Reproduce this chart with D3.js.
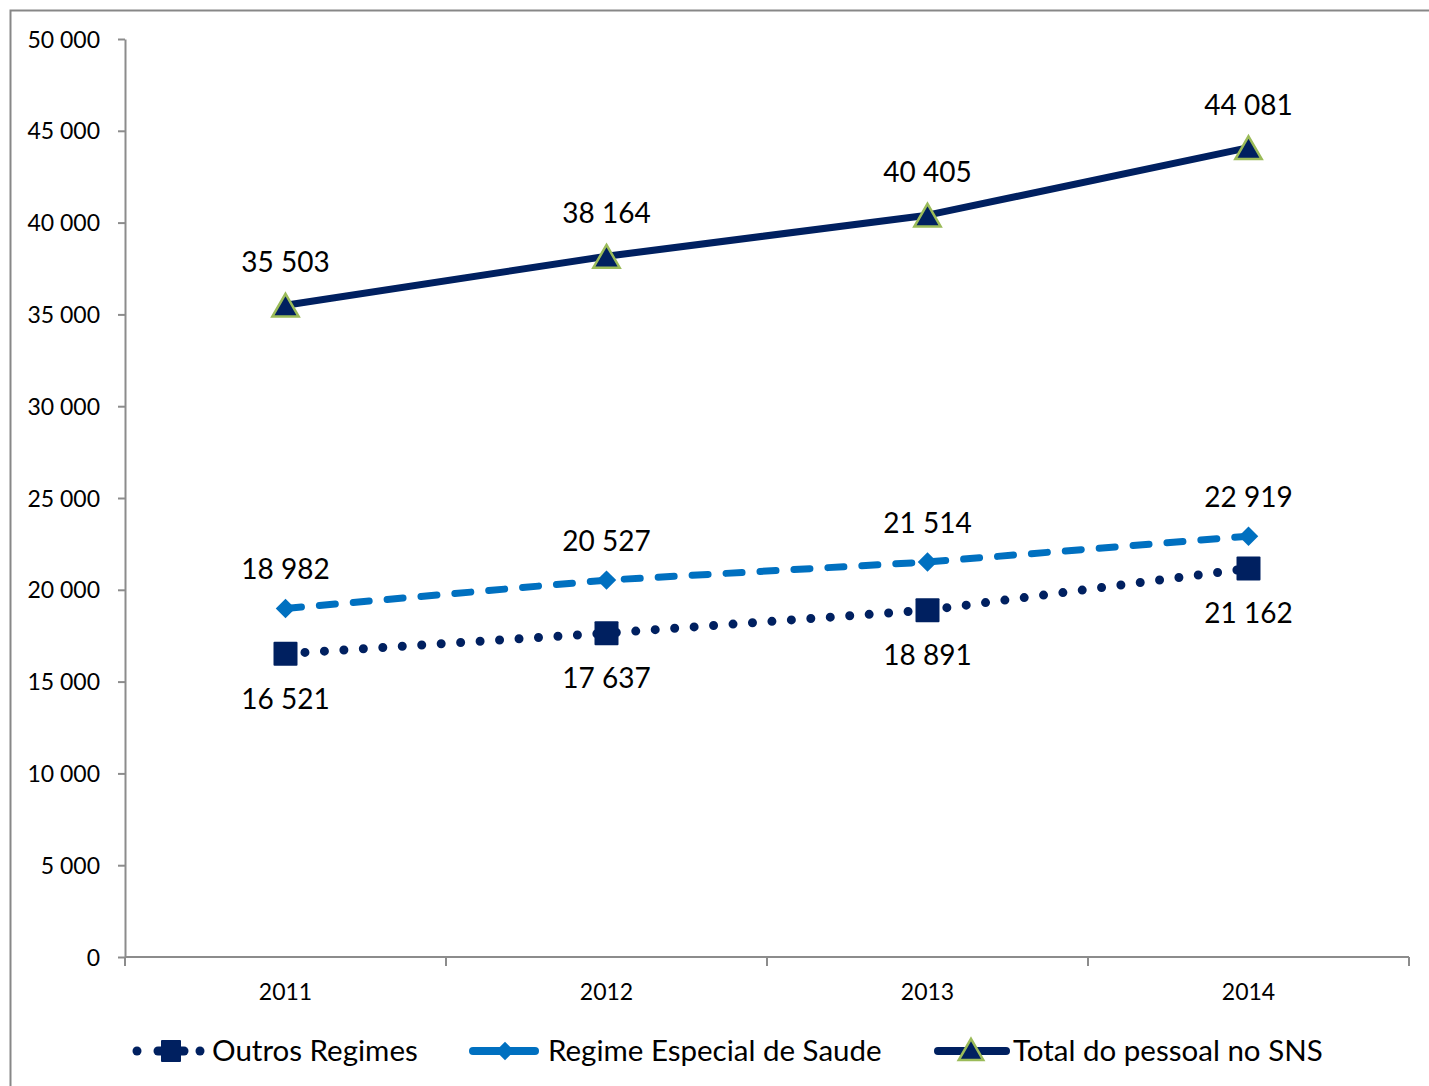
<!DOCTYPE html>
<html>
<head>
<meta charset="utf-8">
<script src="https://cdn.jsdelivr.net/npm/d3@7"></script>
<style>
  html, body { margin: 0; padding: 0; background: #fff; }
  svg { display: block; font-family: Lato, "Open Sans", sans-serif; }
</style>
</head>
<body>
<svg id="chart" width="1429" height="1086"></svg>
<script>
// Staff counts in the SNS by regime, 2011–2014
const years = ["2011", "2012", "2013", "2014"];
const outrosRegimes = [16521, 17637, 18891, 21162];
const regimeEspecial = [18982, 20527, 21514, 22919];
const totalSNS = [35503, 38164, 40405, 44081];
const yTicks = [0, 5000, 10000, 15000, 20000, 25000, 30000, 35000, 40000, 45000, 50000];
const seriesNames = ["Outros Regimes", "Regime Especial de Saude", "Total do pessoal no SNS"];

const navy = "#002060";
const blue = "#0070C0";
const green = "#9BBB59";
const axisGrey = "#8c8c8c";

const svg = d3.select("#chart");
const fmt = v => d3.format(",")(v).replace(/,/g, " ");

// outer frame
svg.append("rect")
  .attr("x", 10.5).attr("y", 10.5)
  .attr("width", 1440).attr("height", 1100)
  .attr("fill", "none").attr("stroke", "#878787").attr("stroke-width", 2);

const plot = { left: 125, right: 1409, top: 39, bottom: 957 };

const x = d3.scaleBand().domain(years).range([plot.left, plot.right]).padding(0);
const y = d3.scaleLinear().domain([0, 50000]).range([plot.bottom, plot.top]);
const cx = d => x(d) + x.bandwidth() / 2;

const tickSize = 23;
const valueSize = 28;
const legendSize = 29.5;

// y axis
const yAxis = svg.append("g")
  .attr("transform", `translate(${plot.left},0)`)
  .call(d3.axisLeft(y).tickValues(yTicks).tickFormat(fmt).tickSize(7).tickSizeOuter(0));
yAxis.select(".domain").attr("stroke", axisGrey).attr("stroke-width", 2);
yAxis.selectAll(".tick line").attr("stroke", axisGrey).attr("stroke-width", 2);
yAxis.selectAll(".tick text")
  .attr("x", -25).attr("dy", "0.35em")
  .attr("font-size", tickSize).attr("fill", "#000")
  .style("font-family", "Lato, 'Open Sans', sans-serif");

// x axis: ticks at category boundaries
const xAxisG = svg.append("g").attr("transform", `translate(0,${plot.bottom})`);
xAxisG.append("line")
  .attr("x1", plot.left).attr("x2", plot.right)
  .attr("stroke", axisGrey).attr("stroke-width", 2);
const boundaries = years.map(d => x(d)).concat([plot.right]);
xAxisG.selectAll("line.tick").data(boundaries).enter().append("line")
  .attr("class", "tick")
  .attr("x1", d => d).attr("x2", d => d)
  .attr("y1", 0).attr("y2", 9)
  .attr("stroke", axisGrey).attr("stroke-width", 2);
xAxisG.selectAll("text").data(years).enter().append("text")
  .attr("x", d => cx(d)).attr("y", 43)
  .attr("text-anchor", "middle")
  .attr("font-size", tickSize).attr("fill", "#000")
  .text(d => d);

const line = d3.line().x((d, i) => cx(years[i])).y(d => y(d));

// Total do pessoal no SNS
svg.append("path").datum(totalSNS)
  .attr("d", line).attr("fill", "none")
  .attr("stroke", navy).attr("stroke-width", 7).attr("stroke-linejoin", "round");

// Regime Especial de Saude (dashed)
svg.append("path").datum(regimeEspecial)
  .attr("d", line).attr("fill", "none")
  .attr("stroke", blue).attr("stroke-width", 7)
  .attr("stroke-linecap", "round")
  .attr("stroke-dasharray", "16 18");

// Outros Regimes (round dotted)
svg.append("path").datum(outrosRegimes)
  .attr("d", line).attr("fill", "none")
  .attr("stroke", navy).attr("stroke-width", 9)
  .attr("stroke-linecap", "round")
  .attr("stroke-dasharray", "0 19.5");

// markers
const triSize = 300;
const triSide = Math.sqrt(triSize * 4 / Math.sqrt(3));
const triH = triSide * Math.sqrt(3) / 2;
const triShift = triH / 6; // centre the triangle's box on the point
const triangle = d3.symbol().type(d3.symbolTriangle).size(triSize);
const diamond = d3.symbol().type(d3.symbolSquare).size(190);

svg.selectAll("path.tri").data(totalSNS).enter().append("path")
  .attr("class", "tri")
  .attr("d", triangle)
  .attr("transform", (d, i) => `translate(${cx(years[i])},${y(d) + triShift})`)
  .attr("fill", navy).attr("stroke", green).attr("stroke-width", 2.5);

svg.selectAll("path.dia").data(regimeEspecial).enter().append("path")
  .attr("class", "dia")
  .attr("d", diamond)
  .attr("transform", (d, i) => `translate(${cx(years[i])},${y(d)}) rotate(45)`)
  .attr("fill", blue);

svg.selectAll("rect.sq").data(outrosRegimes).enter().append("rect")
  .attr("class", "sq")
  .attr("x", (d, i) => cx(years[i]) - 12)
  .attr("y", d => y(d) - 12)
  .attr("width", 24).attr("height", 24)
  .attr("rx", 1)
  .attr("fill", navy);

// data labels
svg.selectAll("text.lt").data(totalSNS).enter().append("text")
  .attr("class", "lt")
  .attr("x", (d, i) => cx(years[i])).attr("y", d => y(d) - 33)
  .attr("text-anchor", "middle").attr("font-size", valueSize).attr("fill", "#000")
  .text(fmt);
svg.selectAll("text.lr").data(regimeEspecial).enter().append("text")
  .attr("class", "lr")
  .attr("x", (d, i) => cx(years[i])).attr("y", d => y(d) - 29)
  .attr("text-anchor", "middle").attr("font-size", valueSize).attr("fill", "#000")
  .text(fmt);
svg.selectAll("text.lo").data(outrosRegimes).enter().append("text")
  .attr("class", "lo")
  .attr("x", (d, i) => cx(years[i])).attr("y", d => y(d) + 55)
  .attr("text-anchor", "middle").attr("font-size", valueSize).attr("fill", "#000")
  .text(fmt);

// legend
const ly = 1051;
const legend = svg.append("g");

// Outros Regimes
const lg0 = legend.append("g");
lg0.selectAll("circle").data([137, 200]).enter().append("circle")
  .attr("cx", d => d).attr("cy", ly).attr("r", 4.5).attr("fill", navy);
lg0.append("line").attr("x1", 158).attr("x2", 184).attr("y1", ly).attr("y2", ly)
  .attr("stroke", navy).attr("stroke-width", 9).attr("stroke-linecap", "round");
lg0.append("rect").attr("x", 161).attr("y", ly - 11).attr("width", 20).attr("height", 22)
  .attr("rx", 1).attr("fill", navy);
lg0.append("text").attr("x", 212).attr("y", ly).attr("dy", "0.35em")
  .attr("font-size", legendSize).text(seriesNames[0]);

// Regime Especial de Saude
const lg1 = legend.append("g");
lg1.append("line").attr("x1", 473).attr("x2", 535).attr("y1", ly).attr("y2", ly)
  .attr("stroke", blue).attr("stroke-width", 8).attr("stroke-linecap", "round");
lg1.append("path").attr("d", d3.symbol().type(d3.symbolSquare).size(170))
  .attr("transform", `translate(505,${ly}) rotate(45)`).attr("fill", blue);
lg1.append("text").attr("x", 548).attr("y", ly).attr("dy", "0.35em")
  .attr("font-size", legendSize).text(seriesNames[1]);

// Total do pessoal no SNS
const lg2 = legend.append("g");
lg2.append("line").attr("x1", 938).attr("x2", 1006).attr("y1", ly).attr("y2", ly)
  .attr("stroke", navy).attr("stroke-width", 8).attr("stroke-linecap", "round");
lg2.append("path").attr("d", d3.symbol().type(d3.symbolTriangle).size(260))
  .attr("transform", `translate(971,${ly + 2})`)
  .attr("fill", navy).attr("stroke", green).attr("stroke-width", 2.5);
lg2.append("text").attr("x", 1013).attr("y", ly).attr("dy", "0.35em")
  .attr("font-size", legendSize).text(seriesNames[2]);
</script>
</body>
</html>
